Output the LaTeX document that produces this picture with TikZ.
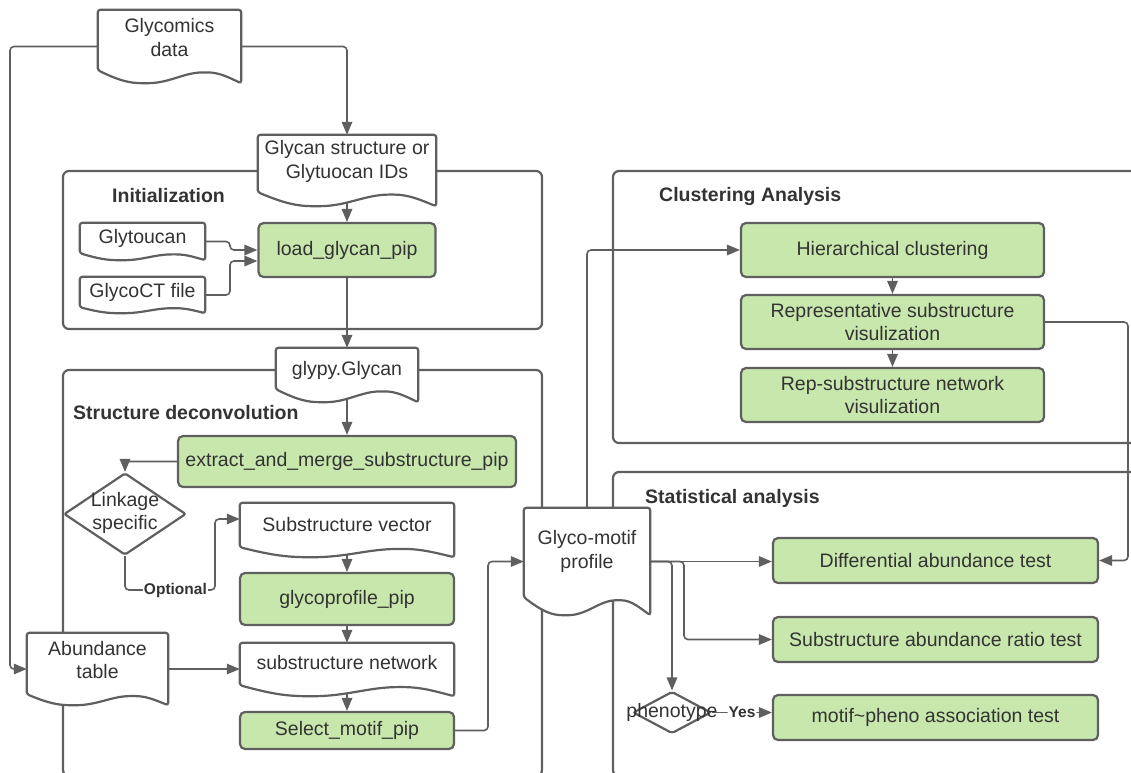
\documentclass[tikz,border=0pt]{standalone}
\usepackage{fontspec}
\setmainfont{Liberation Sans}
\usetikzlibrary{shapes.geometric,arrows.meta,calc}
\pgfdeclarelayer{back}
\pgfdeclarelayer{wires}
\pgfdeclarelayer{docs}
\pgfsetlayers{back,wires,docs,main}
\definecolor{edge}{HTML}{5F5F5F}
\definecolor{ink}{HTML}{333333}
\definecolor{leaf}{HTML}{C7E7AD}

\tikzset{
  base/.style={font=\fontsize{19.5pt}{23.5pt}\selectfont, text=ink, align=center},
  proc/.style={base, rectangle, rounded corners=5pt, draw=edge, fill=leaf, line width=2.2pt, inner sep=0pt},
  doc/.style={rectangle, draw=none, inner sep=0pt},
  doctext/.style={base, inner sep=0pt},
  docline/.style={draw=edge, fill=white, line width=2.2pt, rounded corners=2.5pt},
  frame/.style={draw=edge, line width=2.2pt, rounded corners=6pt},
  ttl/.style={font=\fontsize{19.5pt}{23.5pt}\selectfont\bfseries, text=ink, anchor=west, inner sep=0pt},
  flow/.style={draw=edge, line width=1.6pt, rounded corners=4pt, -{Triangle[length=13pt,width=10.5pt]}},
  tag/.style={font=\fontsize{15.5pt}{18pt}\selectfont\bfseries, text=ink, fill=white, inner sep=1pt},
  choice/.style={diamond, draw=edge, fill=white, line width=2.2pt, inner sep=0pt, rounded corners=2pt},
}

% document symbol: straight top and sides, wavy bottom edge of depth #2
\newcommand\docoutline[2]{%
  \path[docline] let \p1=(#1.south west), \p2=(#1.north east), \n1={\x2-\x1}, \n2={#2} in
    (\x1,{\y1+\n2}) -- (\x1,\y2) -- (\x2,\y2) -- (\x2,\y1)
    .. controls ({\x1+0.92*\n1},{\y1+0.4*\n2}) and ({\x1+0.85*\n1},{\y1+0.83*\n2}) .. ({\x1+0.75*\n1},{\y1+0.83*\n2})
    .. controls ({\x1+0.6*\n1},{\y1+0.83*\n2}) and ({\x1+0.5*\n1},\y1) .. ({\x1+0.33*\n1},\y1)
    .. controls ({\x1+0.22*\n1},\y1) and ({\x1+0.15*\n1},{\y1+0.2*\n2}) .. (\x1,{\y1+\n2}) -- cycle;}

\begin{document}
\begin{tikzpicture}[x=1pt,y=-1pt]
\useasboundingbox (0,0) rectangle (1131,772);

% group frames
\begin{pgfonlayer}{back}
\begin{scope}
\clip (0,0) rectangle (1131,772);
\draw[frame] (63,171) rectangle (542,329);
\draw[frame] (63,370) rectangle (542,776);
\draw[frame] (613,171) rectangle (1138,443);
\draw[frame] (613,472) rectangle (1138,776);
\end{scope}
\end{pgfonlayer}

% group titles
\node[ttl] (tinit) at (112,196) {Initialization};
\node[ttl] (tstruct) at (73,413) {Structure deconvolution};
\node[ttl] (tclust) at (659,196) {Clustering Analysis};
\node[ttl] (tstat) at (645,498) {Statistical analysis};

% documents
\node[doc, minimum width=143pt, minimum height=73pt,
  label={[doctext, name=gdtx, yshift=9pt]center:Glycomics\\data}] (gd) at (169.5,46.5) {};
\node[doc, minimum width=178pt, minimum height=71pt,
  label={[doctext, name=gstx, yshift=9pt]center:Glycan structure or\\Glytuocan IDs}] (gs) at (347,170.5) {};
\node[doc, minimum width=125pt, minimum height=37pt,
  label={[doctext, name=gttx, yshift=3pt]center:Glytoucan}] (gt) at (142.5,241.5) {};
\node[doc, minimum width=125pt, minimum height=36pt,
  label={[doctext, name=gctx, yshift=3pt]center:GlycoCT file}] (gc) at (142.5,295) {};
\node[doc, minimum width=142pt, minimum height=54pt,
  label={[doctext, name=gptx, yshift=5pt]center:glypy.Glycan}] (gp) at (347,375) {};
\node[doc, minimum width=214pt, minimum height=54pt,
  label={[doctext, name=svtx, yshift=5pt]center:Substructure vector}] (sv) at (347,530) {};
\node[doc, minimum width=214pt, minimum height=53pt,
  label={[doctext, name=sntx, yshift=6.5pt]center:substructure network}] (sn) at (347,669.5) {};
\node[doc, minimum width=141pt, minimum height=72pt,
  label={[doctext, name=abtx, yshift=9pt]center:Abundance\\table}] (ab) at (97.5,669) {};
\node[doc, minimum width=126pt, minimum height=107pt,
  label={[doctext, name=gmtx, yshift=10pt]center:Glyco-motif\\profile}] (gm) at (587,561.5) {};

% processes
\node[proc, minimum width=177pt, minimum height=54pt] (load) at (347,250) {load\_glycan\_pip};
\node[proc, minimum width=338pt, minimum height=51pt] (extract) at (347,461.5) {extract\_and\_merge\_substructure\_pip};
\node[proc, minimum width=214pt, minimum height=52pt] (gprof) at (347,599) {glycoprofile\_pip};
\node[proc, minimum width=214pt, minimum height=37pt] (sel) at (347,730.5) {Select\_motif\_pip};
\node[proc, minimum width=303pt, minimum height=54pt] (hc) at (892.5,250) {Hierarchical clustering};
\node[proc, minimum width=303pt, minimum height=54pt] (rep) at (892.5,322) {Representative substructure\\visulization};
\node[proc, minimum width=303pt, minimum height=54pt] (repnet) at (892.5,395) {Rep-substructure network\\visulization};
\node[proc, minimum width=325pt, minimum height=45pt] (diff) at (935.5,560.5) {Differential abundance test};
\node[proc, minimum width=325pt, minimum height=45pt] (ratio) at (935.5,639.5) {Substructure abundance ratio test};
\node[proc, minimum width=325pt, minimum height=45pt] (assoc) at (935.5,717.5) {motif\textasciitilde pheno association test};

% decisions
\node[choice, minimum width=122pt, minimum height=82pt,
  label={[base, name=linktx, inner sep=0pt, yshift=1pt]center:Linkage\\specific}] (linkq) at (125,514) {};
\node[choice, minimum width=78pt, minimum height=42pt,
  label={[base, name=phtx, inner sep=0pt]center:phenotype}] (pheno) at (672,712.5) {};

% connectors
\begin{pgfonlayer}{wires}
\coordinate (lft) at (10,300);
\coordinate (j1) at (230,260);
\coordinate (jo) at (215,590);
\coordinate (j2) at (488,600);
\coordinate (j3) at (1128,400);
\coordinate (j4) at (684,600);
\draw[flow] (gd.west) -| (lft) |- (ab.west);
\draw[flow] (gd.east) -| (gs.north);
\draw[flow] (gs.center) -- (load.north);
\draw[flow] (gt.east) -- (gt.east -| j1) |- (load.west);
\draw[flow] (gc.east) -- (gc.east -| j1) |- ($(load.west)+(0,11)$);
\draw[flow] (load.south) -- (gp.north);
\draw[flow] (gp.center) -- (extract.north);
\draw[flow] (extract.west) -| (linkq.north);
\draw[flow] (linkq.south) |- node[tag, pos=0.78] (opt) {Optional} (jo) |- ($(sv.west)+(0,-11)$);
\draw[flow] (sv.center) -- (gprof.north);
\draw[flow] (gprof.south) -- (sn.north);
\draw[flow] (ab.east) -- (ab.east -| sn.west);
\draw[flow] (sn.center) -- (sel.north);
\draw[flow] (sel.east) -- (sel.east -| j2) |- (gm.west);
\draw[flow] (gm.north) |- (hc.west);
\draw[flow] (hc.south) -- (rep.north);
\draw[flow] (rep.south) -- (repnet.north);
\draw[flow] (rep.east) -- (rep.east -| j3) |- (diff.east);
\draw[flow] (gm.east) -- (gm.east -| diff.west);
\draw[flow] (gm.east) -- (gm.east -| j4) |- (ratio.west);
\draw[flow] (gm.east) -| (pheno.north);
\draw[flow] (pheno.east) -- node[tag, pos=0.5] (yes) {Yes} (pheno.east -| assoc.west);
\end{pgfonlayer}

% document outlines
\begin{pgfonlayer}{docs}
\docoutline{gd}{13}
\docoutline{gs}{14}
\docoutline{gt}{7}
\docoutline{gc}{6}
\docoutline{gp}{13}
\docoutline{sv}{10}
\docoutline{sn}{11}
\docoutline{ab}{11}
\docoutline{gm}{18}
\end{pgfonlayer}
\end{tikzpicture}
\end{document}
